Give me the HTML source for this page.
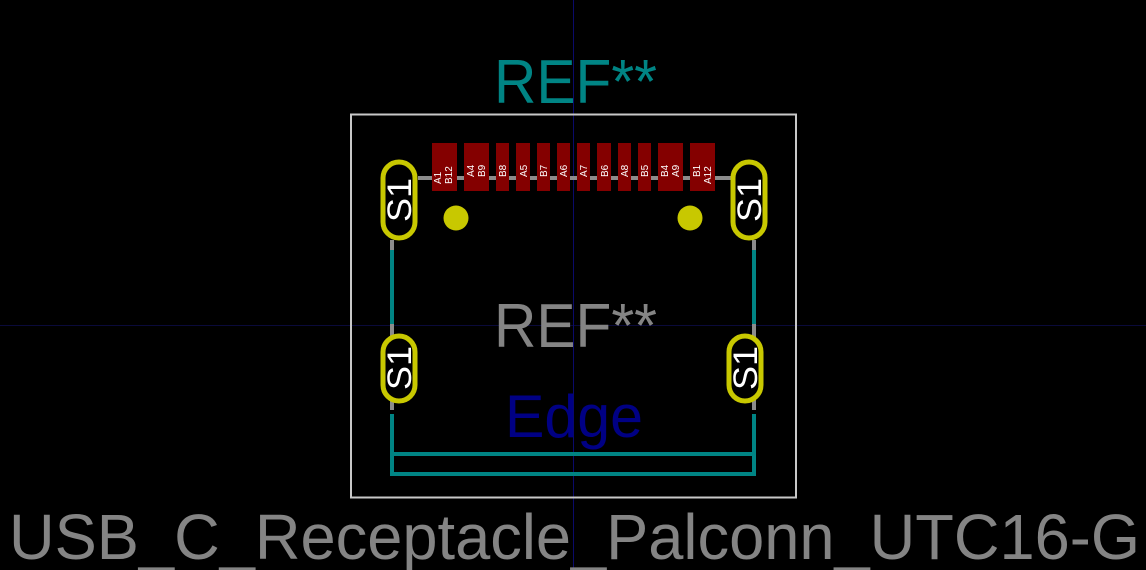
<!DOCTYPE html>
<html><head><meta charset="utf-8"><style>
html,body{margin:0;padding:0;background:#000;width:1146px;height:570px;overflow:hidden}
svg{display:block}
text{font-family:"Liberation Sans","DejaVu Sans",sans-serif}
</style></head><body>
<svg width="1146" height="570" viewBox="0 0 1146 570" xmlns="http://www.w3.org/2000/svg">
<rect width="1146" height="570" fill="#000"/>
<!-- crosshair -->
<line x1="0" y1="325.5" x2="1146" y2="325.5" stroke="#0a0a3a" stroke-width="1"/>
<line x1="573.5" y1="0" x2="573.5" y2="570" stroke="#0a0a6a" stroke-width="1"/>
<!-- courtyard -->
<rect x="351" y="114.5" width="445" height="383" fill="none" stroke="#c8c8c8" stroke-width="2"/>
<!-- grey lines -->
<line x1="418" y1="178" x2="732" y2="178" stroke="#8c8c8c" stroke-width="4"/>
<line x1="392" y1="240" x2="392" y2="410" stroke="#8c8c8c" stroke-width="4"/>
<line x1="754" y1="240" x2="754" y2="410" stroke="#8c8c8c" stroke-width="4"/>
<!-- teal fab lines -->
<g stroke="#008484" stroke-width="4" fill="none">
<line x1="392" y1="250" x2="392" y2="324"/>
<line x1="754" y1="250" x2="754" y2="324"/>
<path d="M392 414 V474 H754 V414"/>
<line x1="392" y1="454" x2="754" y2="454"/>
</g>
<!-- pads -->
<g fill="#840000">
<rect x="432" y="143" width="25" height="48"/>
<rect x="464" y="143" width="25" height="48"/>
<rect x="496" y="143" width="13" height="48"/>
<rect x="516" y="143" width="14" height="48"/>
<rect x="537" y="143" width="13" height="48"/>
<rect x="557" y="143" width="13" height="48"/>
<rect x="577" y="143" width="13" height="48"/>
<rect x="597" y="143" width="14" height="48"/>
<rect x="618" y="143" width="13" height="48"/>
<rect x="638" y="143" width="13" height="48"/>
<rect x="658" y="143" width="25" height="48"/>
<rect x="690" y="143" width="25" height="48"/>
</g>
<g fill="#fff" font-size="10">
<text transform="translate(441,184) rotate(-90)">A1</text>
<text transform="translate(452,184) rotate(-90)">B12</text>
<text transform="translate(474,177) rotate(-90)">A4</text>
<text transform="translate(485,177) rotate(-90)">B9</text>
<text transform="translate(506,177) rotate(-90)">B8</text>
<text transform="translate(527,177) rotate(-90)">A5</text>
<text transform="translate(547,177) rotate(-90)">B7</text>
<text transform="translate(567,177) rotate(-90)">A6</text>
<text transform="translate(587,177) rotate(-90)">A7</text>
<text transform="translate(608,177) rotate(-90)">B6</text>
<text transform="translate(628,177) rotate(-90)">A8</text>
<text transform="translate(648,177) rotate(-90)">B5</text>
<text transform="translate(668,177) rotate(-90)">B4</text>
<text transform="translate(679,177) rotate(-90)">A9</text>
<text transform="translate(700,177) rotate(-90)">B1</text>
<text transform="translate(711,184) rotate(-90)">A12</text>
</g>
<!-- oval pads -->
<g fill="#000" stroke="#c8c800" stroke-width="5">
<rect x="383" y="162" width="32" height="76" rx="16"/>
<rect x="733" y="162" width="32" height="76" rx="16"/>
<rect x="383" y="336" width="32" height="65" rx="16"/>
<rect x="729" y="336" width="32" height="65" rx="16"/>
</g>
<circle cx="456" cy="218" r="12.5" fill="#c8c800"/>
<circle cx="690" cy="218" r="12.5" fill="#c8c800"/>
<g fill="#fff" font-size="34" text-anchor="middle">
<text transform="translate(411,200) rotate(-90)" textLength="44" lengthAdjust="spacingAndGlyphs">S1</text>
<text transform="translate(761,200) rotate(-90)" textLength="44" lengthAdjust="spacingAndGlyphs">S1</text>
<text transform="translate(411,368) rotate(-90)" textLength="44" lengthAdjust="spacingAndGlyphs">S1</text>
<text transform="translate(757,368) rotate(-90)" textLength="44" lengthAdjust="spacingAndGlyphs">S1</text>
</g>
<!-- texts -->
<text x="494" y="103" font-size="62" fill="#008484" textLength="163" lengthAdjust="spacingAndGlyphs">REF**</text>
<text x="494" y="347" font-size="62" fill="#848484" textLength="163" lengthAdjust="spacingAndGlyphs">REF**</text>
<text x="505" y="437" font-size="60" fill="#000084" textLength="138" lengthAdjust="spacingAndGlyphs">Edge</text>
<text x="9" y="559" font-size="64" fill="#848484" textLength="1131" lengthAdjust="spacingAndGlyphs">USB_C_Receptacle_Palconn_UTC16-G</text>
</svg>
</body></html>
